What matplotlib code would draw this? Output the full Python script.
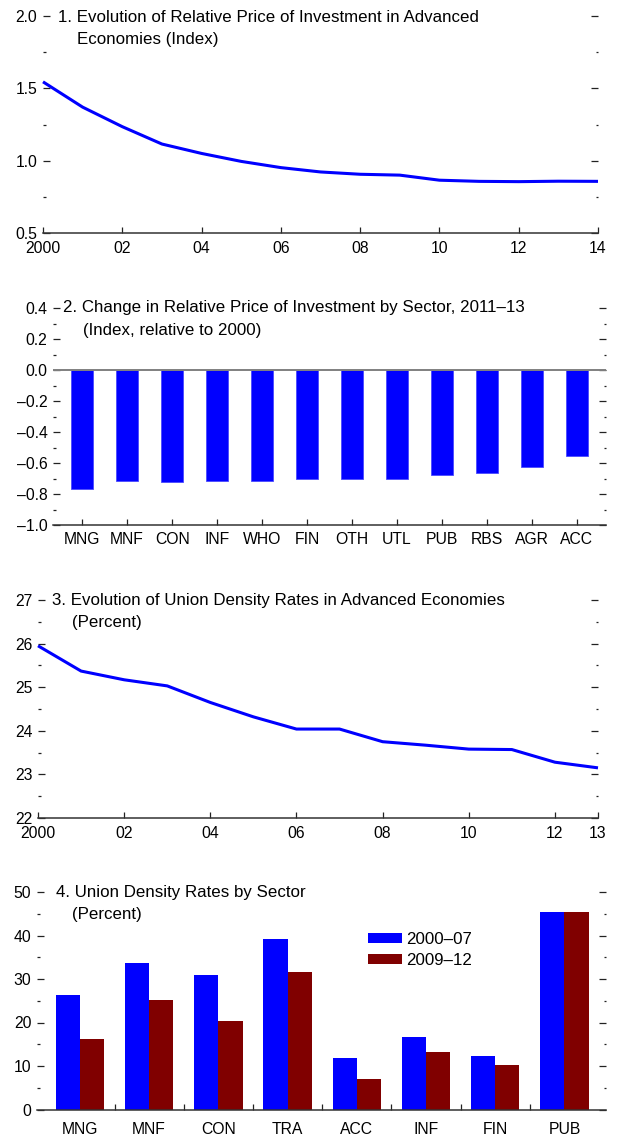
import matplotlib
matplotlib.use('Agg')
import matplotlib.pyplot as plt
from matplotlib.ticker import MultipleLocator, FixedLocator, FuncFormatter
from matplotlib.patches import Patch

plt.rcParams['font.family'] = ['Liberation Sans', 'DejaVu Sans']
plt.rcParams['font.size'] = 11

W, H = 622, 1135
BLUE = '#0000FF'
RED = '#800000'
DARK = '#222222'
TITLE_FS = 12.2

# ---------------- data ----------------
years1 = list(range(2000, 2015))
price_index = [1.545, 1.37, 1.235, 1.115, 1.05, 0.995, 0.952, 0.922, 0.906, 0.90,
               0.865, 0.857, 0.855, 0.858, 0.857]
years1_ticks = [2000, 2002, 2004, 2006, 2008, 2010, 2012, 2014]
years1_labels = ['2000', '02', '04', '06', '08', '10', '12', '14']

sectors2 = ['MNG', 'MNF', 'CON', 'INF', 'WHO', 'FIN', 'OTH', 'UTL', 'PUB', 'RBS', 'AGR', 'ACC']
price_change = [-0.77, -0.715, -0.72, -0.713, -0.713, -0.70, -0.70, -0.70, -0.68, -0.663, -0.624, -0.553]

years3 = list(range(2000, 2014))
union_density = [25.95, 25.37, 25.17, 25.03, 24.65, 24.32, 24.04, 24.04, 23.75, 23.67,
                 23.58, 23.57, 23.28, 23.15]
years3_ticks = [2000, 2002, 2004, 2006, 2008, 2010, 2012, 2013]
years3_labels = ['2000', '02', '04', '06', '08', '10', '12', '13']

sectors4 = ['MNG', 'MNF', 'CON', 'TRA', 'ACC', 'INF', 'FIN', 'PUB']
density_2000_07 = [26.3, 33.6, 30.9, 39.2, 11.9, 16.7, 12.4, 45.3]
density_2009_12 = [16.3, 25.2, 20.4, 31.5, 6.9, 13.2, 10.3, 45.3]
series_labels = ['2000\u201307', '2009\u201312']

# ---------------- helpers ----------------
fig = plt.figure(figsize=(W / 100, H / 100), dpi=100)


def px_axes(l, r, t, b):
    return fig.add_axes([l / W, 1 - b / H, (r - l) / W, (b - t) / H])


def ptext(x, y, s, **kw):
    fig.text(x / W, 1 - y / H, s, va='baseline', ha='left', fontsize=TITLE_FS, color='black', **kw)


def dash_fmt(decimals):
    def f(v, p):
        if abs(v) < 1e-9:
            v = 0.0
        s = f"{v:.{decimals}f}"
        return s.replace('-', '\u2013')
    return FuncFormatter(f)


def style(ax):
    for s in ['left', 'right', 'top']:
        ax.spines[s].set_visible(False)
    ax.spines['bottom'].set_color('#333333')
    ax.spines['bottom'].set_linewidth(1.1)
    ax.tick_params(axis='y', which='both', left=True, right=True, direction='in',
                   colors=DARK, labelcolor='black', labelsize=11.3, pad=4)
    ax.tick_params(axis='y', which='major', length=4.8, width=0.9)
    ax.tick_params(axis='y', which='minor', length=1.8, width=0.9)
    ax.tick_params(axis='x', which='both', direction='in', bottom=True, top=False,
                   colors=DARK, labelcolor='black', labelsize=11.3, pad=6, length=4.5, width=0.9)


# ---------------- panel 1 ----------------
ax1 = px_axes(43, 598, 16, 233)
style(ax1)
ax1.plot(years1, price_index, color=BLUE, lw=2.2, solid_capstyle='butt', clip_on=False)
ax1.set_xlim(2000, 2014)
ax1.set_ylim(0.5, 2.0)
ax1.yaxis.set_major_locator(MultipleLocator(0.5))
ax1.yaxis.set_minor_locator(MultipleLocator(0.25))
ax1.yaxis.set_major_formatter(dash_fmt(1))
ax1.xaxis.set_major_locator(FixedLocator(years1_ticks))
ax1.set_xticklabels(years1_labels)
ptext(58, 22, '1. Evolution of Relative Price of Investment in Advanced')
ptext(77, 44, 'Economies (Index)')

# ---------------- panel 2 ----------------
ax2 = px_axes(53, 606, 308, 525)
style(ax2)
x2 = range(len(sectors2))
ax2.bar(x2, price_change, width=0.5, color=BLUE, edgecolor='#4a4aff', linewidth=0.6, zorder=2)
ax2.axhline(0, color='#808080', lw=1.4, zorder=3)
ax2.set_xlim(-0.65, len(sectors2) - 0.35)
ax2.set_ylim(-1.0, 0.4)
ax2.yaxis.set_major_locator(MultipleLocator(0.2))
ax2.yaxis.set_minor_locator(MultipleLocator(0.1))
ax2.yaxis.set_major_formatter(dash_fmt(1))
ax2.set_xticks(list(x2))
ax2.set_xticklabels(sectors2)
ax2.tick_params(axis='x', pad=5)
ptext(63, 312, '2. Change in Relative Price of Investment by Sector, 2011\u201313')
ptext(83, 335, '(Index, relative to 2000)')

# ---------------- panel 3 ----------------
ax3 = px_axes(38, 598, 600, 818)
style(ax3)
ax3.plot(years3, union_density, color=BLUE, lw=2.2, solid_capstyle='butt', clip_on=False)
ax3.set_xlim(2000, 2013)
ax3.set_ylim(22, 27)
ax3.yaxis.set_major_locator(MultipleLocator(1))
ax3.yaxis.set_minor_locator(MultipleLocator(0.5))
ax3.yaxis.set_major_formatter(dash_fmt(0))
ax3.xaxis.set_major_locator(FixedLocator(years3_ticks))
ax3.set_xticklabels(years3_labels)
ptext(52, 605, '3. Evolution of Union Density Rates in Advanced Economies')
ptext(72, 627, '(Percent)')

# ---------------- panel 4 ----------------
ax4 = px_axes(37, 606, 892, 1109.5)
style(ax4)
x4 = list(range(len(sectors4)))
bw = 0.35
ax4.bar([i - bw / 2 for i in x4], density_2000_07, width=bw, color=BLUE, label=series_labels[0], zorder=2)
ax4.bar([i + bw / 2 for i in x4], density_2009_12, width=bw, color=RED, label=series_labels[1], zorder=2)
ax4.set_xlim(-0.62, len(sectors4) - 0.4)
ax4.set_ylim(0, 50)
ax4.yaxis.set_major_locator(MultipleLocator(10))
ax4.yaxis.set_minor_locator(MultipleLocator(5))
ax4.yaxis.set_major_formatter(dash_fmt(0))
ax4.set_xticks(x4)
ax4.set_xticklabels(sectors4)
ax4.xaxis.set_minor_locator(FixedLocator([i + 0.5 for i in x4[:-1]]))
ax4.tick_params(axis='x', which='major', length=0, pad=9)
ax4.tick_params(axis='x', which='minor', length=4.5)
handles = [Patch(facecolor=BLUE), Patch(facecolor=RED)]
fig.legend(handles, series_labels, loc='upper left', bbox_to_anchor=(368 / W, 1 - 932 / H),
           frameon=False, borderpad=0, borderaxespad=0, handlelength=2.0, handleheight=0.5,
           handletextpad=0.24, labelspacing=0.35, fontsize=TITLE_FS)
ptext(56, 897, '4. Union Density Rates by Sector')
ptext(72, 919, '(Percent)')

fig.savefig('out.png', dpi=100)
